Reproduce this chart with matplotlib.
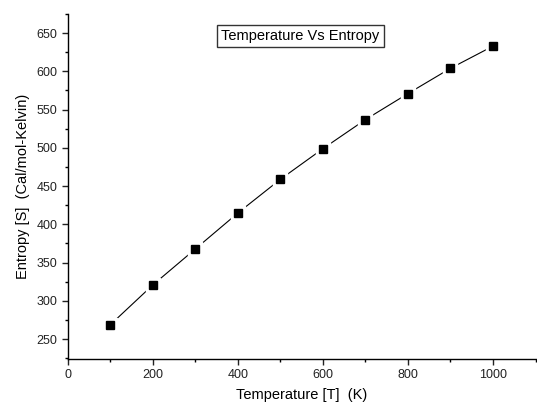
import matplotlib
matplotlib.use("Agg")
import matplotlib.pyplot as plt
from matplotlib.ticker import MultipleLocator

plt.rcParams['font.family'] = ['Liberation Sans', 'DejaVu Sans']

temperatura = [100, 200, 300, 400, 500, 600, 700, 800, 900, 1000]
entropia = [269, 321, 368, 415, 459, 499, 537, 571, 604, 633]

fig = plt.figure(figsize=(5.37, 4.09), dpi=100)
ax = fig.add_axes([0.1266, 0.1222, 0.8714, 0.8436])

# linea con huecos alrededor de los marcadores
ax.plot(temperatura, entropia, color='black', lw=0.8, zorder=2)
ax.plot(temperatura, entropia, 's', ms=10, color='white', zorder=3)
ax.plot(temperatura, entropia, 's', ms=6, color='black', zorder=4)

ax.set_xlim(0, 1101)
ax.set_ylim(224, 675)
ax.xaxis.set_major_locator(MultipleLocator(200))
ax.xaxis.set_minor_locator(MultipleLocator(100))
ax.yaxis.set_major_locator(MultipleLocator(50))
ax.yaxis.set_minor_locator(MultipleLocator(25))

for lado in ['top', 'right']:
    ax.spines[lado].set_visible(False)
for lado in ['left', 'bottom']:
    ax.spines[lado].set_linewidth(1.0)

ax.tick_params(which='major', direction='out', length=4, width=1, labelsize=9, colors='#222222')
ax.tick_params(which='minor', direction='out', length=2.5, width=1)

ax.set_xlabel("Temperature [T]  (K)", fontsize=10.5, labelpad=5)
ax.set_ylabel("Entropy [S]  (Cal/mol-Kelvin)", fontsize=10.5, labelpad=5)

ax.text(0.496, 0.936, "Temperature Vs Entropy", transform=ax.transAxes, fontsize=10.5,
        ha='center', va='center',
        bbox=dict(boxstyle='square,pad=0.3', fc='white', ec='#333333', lw=1))

fig.savefig("out.png", dpi=100)
